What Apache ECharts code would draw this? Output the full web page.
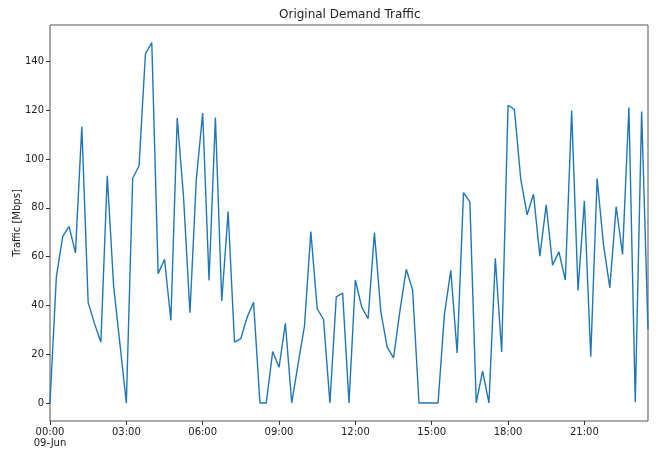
<!DOCTYPE html>
<html>
<head>
<meta charset="utf-8">
<title>Original Demand Traffic</title>
<script src="https://cdn.jsdelivr.net/npm/echarts@6/dist/echarts.min.js"></script>
<style>
  html, body { margin: 0; padding: 0; background: #fff; }
  #main { width: 656px; height: 451px; }
</style>
</head>
<body>
<div id="main"></div>
<script>
// 15-minute samples, 09-Jun 00:00 .. 23:30
var times = [
  "00:00","00:15","00:30","00:45","01:00","01:15","01:30","01:45",
  "02:00","02:15","02:30","02:45","03:00","03:15","03:30","03:45",
  "04:00","04:15","04:30","04:45","05:00","05:15","05:30","05:45",
  "06:00","06:15","06:30","06:45","07:00","07:15","07:30","07:45",
  "08:00","08:15","08:30","08:45","09:00","09:15","09:30","09:45",
  "10:00","10:15","10:30","10:45","11:00","11:15","11:30","11:45",
  "12:00","12:15","12:30","12:45","13:00","13:15","13:30","13:45",
  "14:00","14:15","14:30","14:45","15:00","15:15","15:30","15:45",
  "16:00","16:15","16:30","16:45","17:00","17:15","17:30","17:45",
  "18:00","18:15","18:30","18:45","19:00","19:15","19:30","19:45",
  "20:00","20:15","20:30","20:45","21:00","21:15","21:30","21:45",
  "22:00","22:15","22:30","22:45","23:00","23:15","23:30"
];

// traffic in Mbps
var traffic = [
  0, 51.7, 68.3, 72.4, 61.5, 113.3, 41.1, 32.5,
  24.9, 93.1, 47.9, 24, 0, 92.1, 97.2, 143.1,
  147.7, 53.0, 58.9, 33.8, 116.8, 84, 37.0, 91.7,
  118.8, 50.2, 117.0, 41.8, 78.4, 24.9, 26.4, 35.2,
  41.3, 0, 0, 21.1, 14.6, 32.6, 0, 16,
  31.5, 70.2, 38.6, 34.2, 0, 43.5, 45.0, 0,
  50.4, 39.3, 34.5, 69.8, 37.4, 22.9, 18.5, 37.6,
  54.8, 46.3, 0, 0, 0, 0, 36.3, 54.3,
  20.5, 86.2, 82.4, 0, 13.0, 0, 59.3, 20.9,
  122.0, 120.3, 91.7, 77.1, 85.6, 60.2, 81.2, 56.5,
  61.9, 50.4, 119.8, 46.1, 82.8, 18.9, 92.0, 65.0,
  47.2, 80.5, 60.9, 121.1, 0.3, 119.4, 30.1
];

var yTicks = [0, 20, 40, 60, 80, 100, 120, 140];
var dayLabel = "09-Jun";

var myChart = echarts.init(document.getElementById('main'));
var txt = '#222';
var font = 'DejaVu Sans';

var option = {
    animation: false,
    textStyle: { fontFamily: font },
    title: {
        text: 'Original Demand Traffic',
        left: 279,
        top: 9,
        padding: 0,
        textStyle: { fontSize: 12, fontWeight: 'normal', color: txt, fontFamily: font }
    },
    grid: {
        left: 50, right: 8, top: 25, bottom: 30,
        show: true, borderColor: '#555', borderWidth: 1,
        containLabel: false,
        outerBoundsMode: 'none'
    },
    xAxis: {
        type: 'category',
        data: times,
        boundaryGap: false,
        axisLine: { show: false, onZero: false },
        axisTick: { show: true, interval: 11, length: 4, inside: false, lineStyle: { color: '#333' } },
        axisLabel: {
            interval: 11,
            margin: 6,
            color: txt,
            fontSize: 10,
            fontFamily: font,
            lineHeight: 11,
            formatter: function (v, i) {           // first tick carries the date
                return i === 0 ? v + '\n' + dayLabel : v;
            }
        },
        splitLine: { show: false }
    },
    yAxis: {
        type: 'value',
        min: -7.4,
        max: 154.9,
        name: 'Traffic [Mbps]',
        nameLocation: 'middle',
        nameGap: 28,
        nameMoveOverlap: false,
        nameTextStyle: { color: txt, fontSize: 10, fontFamily: font },
        axisLine: { show: false },
        axisTick: { show: true, length: 4, customValues: yTicks, lineStyle: { color: '#333' } },
        axisLabel: { customValues: yTicks, margin: 6, color: txt, fontSize: 10, fontFamily: font },
        splitLine: { show: false }
    },
    series: [{
        name: 'Traffic',
        type: 'line',
        data: traffic,
        showSymbol: false,
        symbol: 'none',
        lineStyle: { color: '#1f77b4', width: 1.4 },
        itemStyle: { color: '#1f77b4' }
    }]
};

myChart.setOption(option);
</script>
</body>
</html>
